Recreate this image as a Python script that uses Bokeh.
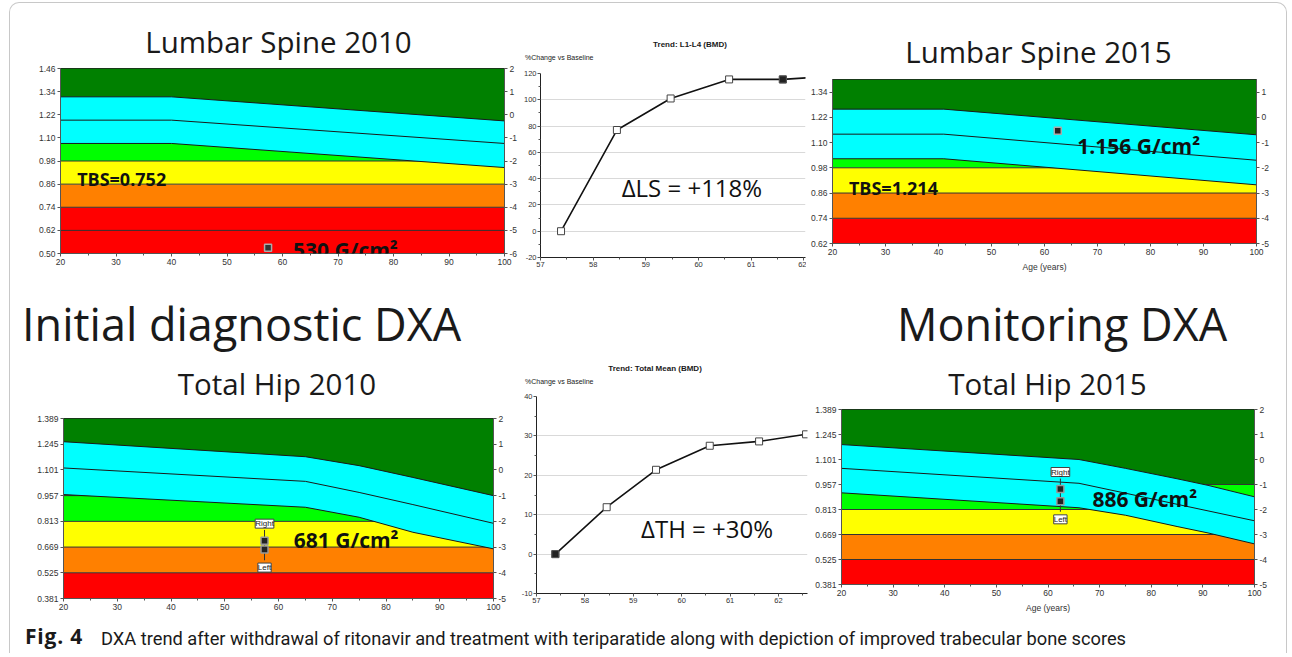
from bokeh.plotting import figure
from bokeh.models import Range1d, LinearAxis, FixedTicker, PrintfTickFormatter, Label, Div
from bokeh.layouts import row, column
from bokeh.embed import file_html
from bokeh.resources import INLINE

# ---------------- data ----------------
age_ticks = [20, 30, 40, 50, 60, 70, 80, 90, 100]
band_t_edges = [-5, -4, -3, -2, -1]          # T-score band limits

# Lumbar spine 2010 reference curves (age, BMD g/cm2)
ls10_age = [20, 40, 100]
ls10_upper = [1.313, 1.313, 1.188]
ls10_mean = [1.192, 1.192, 1.071]
ls10_lower = [1.071, 1.071, 0.946]
ls10_pt_age = [57.4]
ls10_pt_bmd = [0.530]
ls10_bmd_ticks = [0.50, 0.62, 0.74, 0.86, 0.98, 1.10, 1.22, 1.34, 1.46]
ls10_t_ticks = [-6, -5, -4, -3, -2, -1, 0, 1, 2]

# Lumbar spine 2015
ls15_age = [20, 41, 100]
ls15_upper = [1.259, 1.259, 1.137]
ls15_mean = [1.140, 1.140, 1.016]
ls15_lower = [1.023, 1.023, 0.899]
ls15_pt_age = [62.5]
ls15_pt_bmd = [1.156]
ls15_bmd_ticks = [0.62, 0.74, 0.86, 0.98, 1.10, 1.22, 1.34]
ls15_t_ticks = [-5, -4, -3, -2, -1, 0, 1]

# Total hip 2010
th10_age = [20, 65, 75, 85, 100]
th10_upper = [1.259, 1.175, 1.125, 1.059, 0.957]
th10_mean = [1.112, 1.037, 0.975, 0.907, 0.802]
th10_lower = [0.963, 0.892, 0.836, 0.752, 0.659]
th10_pt_age = [57.4, 57.4]
th10_pt_bmd = [0.705, 0.655]
# Total hip 2015
th15_age = [20, 66, 75, 85, 91, 100]
th15_upper = [1.187, 1.101, 1.050, 0.990, 0.952, 0.886]
th15_mean = [1.050, 0.964, 0.907, 0.843, 0.805, 0.748]
th15_lower = [0.909, 0.823, 0.780, 0.715, 0.678, 0.615]
th15_pt_age = [62.4, 62.4]
th15_pt_bmd = [0.931, 0.860]
hip_bmd_ticks = [0.381, 0.525, 0.669, 0.813, 0.957, 1.101, 1.245, 1.389]
hip_t_ticks = [-5, -4, -3, -2, -1, 0, 1, 2]
side_names = ["Right", "Left"]

# Trend charts (% change vs baseline)
trend_age = [57.39, 58.45, 59.47, 60.58, 61.60, 62.57]
ls_trend_pct = [0, 77, 101, 115.5, 115.5, 118]
th_trend_pct = [0, 11.9, 21.4, 27.5, 28.6, 30.4]
trend_year_ticks = [57, 58, 59, 60, 61, 62]
ls_trend_ticks = [-20, 0, 20, 40, 60, 80, 100, 120]
th_trend_ticks = [-10, 0, 10, 20, 30, 40]

BAND_COLORS = ["#FF0000", "#FF8000", "#FFFF00", "#00FF00", "#008000"]
CYAN = "#00FFFF"
OPEN = "Open Sans"
LIB = "Liberation Sans"
ROBOTO = "Roboto"
# baseline position (in em) of a line box whose line-height equals the font size
BASE_K = {OPEN: 0.888, LIB: 0.8465, ROBOTO: 0.842}


def style_axis(ax, size="8.5px", standoff=2):
    ax.major_label_text_font = LIB
    ax.major_label_text_font_size = size
    ax.major_label_text_color = "#333333"
    ax.axis_line_color = "#555555"
    ax.major_tick_line_color = "#555555"
    ax.minor_tick_line_color = "#555555"
    ax.major_tick_out = 3
    ax.major_tick_in = 0
    ax.minor_tick_out = 2
    ax.minor_tick_in = 0
    ax.major_label_standoff = standoff


def data_text(p, x, y, text, size, bold=True, font=OPEN):
    p.add_layout(Label(x=x, y=y, text=text, text_align="left", text_baseline="alphabetic",
                       text_font=font, text_font_size=f"{size}px",
                       text_font_style="bold" if bold else "normal", text_color="#111111"))


def text_div(width, height, items):
    """items: (x, baseline_y, text, size_px, font, bold, align) in px inside the box"""
    parts = []
    for x, base, text, size, font, bold, align, *extra in items:
        top = base - BASE_K[font] * size
        shift = "transform:translateX(-50%);" if align == "center" else ""
        ls = f"letter-spacing:{extra[0]}px;" if extra else ""
        parts.append(
            f'<div style="position:absolute;left:{x}px;top:{top:.1f}px;{shift}{ls}'
            f'font-family:\'{font}\';font-size:{size}px;line-height:{size}px;'
            f'font-weight:{"bold" if bold else "normal"};color:#1a1a1a;white-space:nowrap">{text}</div>')
    html = (f'<div style="position:relative;width:{width}px;height:{height}px">'
            + "".join(parts) + "</div>")
    return Div(text=html, width=width, height=height, margin=0)


def band_chart(width, height, borders, ages, upper, mean, lower, y_lim, bmd_ticks, bmd_fmt,
               t_ref, t_sd, t_ticks, age_label=None):
    l, r, t, b = borders
    p = figure(width=width, height=height, x_range=Range1d(age_ticks[0], age_ticks[-1]),
               y_range=Range1d(*y_lim), output_backend="svg", toolbar_location=None, title=None,
               min_border_left=l, min_border_right=r, min_border_top=t, min_border_bottom=b)
    p.grid.visible = False
    p.outline_line_color = "#222222"
    edges = [t_ref + z * t_sd for z in band_t_edges]
    lo_edges = [y_lim[0]] + edges[1:]
    hi_edges = edges[1:] + [y_lim[1]]
    p.quad(left=age_ticks[0], right=age_ticks[-1], bottom=lo_edges, top=hi_edges,
           fill_color=BAND_COLORS, line_color=None)
    p.segment(x0=age_ticks[0], x1=age_ticks[-1], y0=edges, y1=edges, line_color="#333333", line_width=1)
    p.varea(x=ages, y1=lower, y2=upper, fill_color=CYAN)
    for ys in (upper, mean, lower):
        p.line(ages, ys, line_color="#1a1a1a", line_width=1)
    p.xaxis.ticker = FixedTicker(ticks=age_ticks, minor_ticks=[a + 5 for a in age_ticks[:-1]])
    p.yaxis.ticker = FixedTicker(ticks=bmd_ticks)
    p.yaxis.formatter = PrintfTickFormatter(format=bmd_fmt)
    p.extra_y_ranges = {"t": Range1d((y_lim[0] - t_ref) / t_sd, (y_lim[1] - t_ref) / t_sd)}
    rax = LinearAxis(y_range_name="t", ticker=FixedTicker(ticks=t_ticks),
                     formatter=PrintfTickFormatter(format="%d"))
    p.add_layout(rax, "right")
    for ax in p.xaxis + p.yaxis:
        style_axis(ax)
    if age_label:
        p.xaxis.axis_label = age_label
        p.xaxis.axis_label_text_font = LIB
        p.xaxis.axis_label_text_font_size = "8.5px"
        p.xaxis.axis_label_text_font_style = "normal"
        p.xaxis.axis_label_text_color = "#333333"
        p.xaxis.axis_label_standoff = 4
    return p


def trend_chart(width, height, borders, x_end, pct, y_ticks, filled_idx):
    l, r, t, b = borders
    p = figure(width=width, height=height, x_range=Range1d(trend_year_ticks[0], x_end),
               y_range=Range1d(y_ticks[0], y_ticks[-1]), output_backend="svg",
               toolbar_location=None, title=None,
               min_border_left=l, min_border_right=r, min_border_top=t, min_border_bottom=b)
    p.outline_line_color = None
    p.xgrid.visible = False
    p.ygrid.grid_line_color = "#d9d9d9"
    p.ygrid.ticker = FixedTicker(ticks=y_ticks)
    step = y_ticks[1] - y_ticks[0]
    p.yaxis.ticker = FixedTicker(ticks=y_ticks, minor_ticks=[v + step / 2 for v in y_ticks[:-1]])
    p.yaxis.formatter = PrintfTickFormatter(format="%d")
    p.xaxis.ticker = FixedTicker(ticks=trend_year_ticks,
                                 minor_ticks=[v + 0.5 for v in trend_year_ticks])
    for ax in p.xaxis + p.yaxis:
        style_axis(ax, "7.5px", 1)
        ax.axis_line_color = "#222222"
    p.line(trend_age, pct, line_color="#111111", line_width=1.6)
    p.scatter(trend_age, pct, marker="square", size=7, fill_color="white", line_color="#444444")
    p.scatter([trend_age[filled_idx]], [pct[filled_idx]], marker="square", size=7,
              fill_color="#222222", line_color="#555555")
    return p


def hip_points(p, ages, bmds):
    p.segment(x0=ages[0], x1=ages[1], y0=bmds[0] + 0.06, y1=bmds[1] - 0.06,
              line_color="#333333", line_width=1)
    p.scatter(ages, bmds, marker="square", size=7, fill_color="#222222", line_color="#999999",
              line_width=1.5)
    for a, v, name, off in zip(ages, bmds, side_names, (17, -18)):
        p.add_layout(Label(x=a, y=v, y_offset=off, text=name, text_align="center",
                           text_baseline="middle", text_font=LIB, text_font_size="8px",
                           text_color="#222222", background_fill_color="white",
                           border_line_color="#444444"))


# ---------------- top row ----------------
pA = band_chart(510, 218, (50, 15, 3, 30), ls10_age, ls10_upper, ls10_mean, ls10_lower,
                (0.50, 1.46), ls10_bmd_ticks, "%.2f", 1.22, 0.12, ls10_t_ticks)
pA.scatter(ls10_pt_age, ls10_pt_bmd, marker="square", size=7, fill_color="#333333",
           line_color="#aaaaaa", line_width=1.5)
data_text(pA, 23.0, 0.885, "TBS=0.752", 18)
data_text(pA, 61.9, 0.517, "530 G/cm²", 21)
dA = text_div(510, 62, [(268.5, 50, "Lumbar Spine 2010", 29.5, OPEN, False, "center")])

pB = trend_chart(286, 218, (16, 1, 8, 26), 62.03, ls_trend_pct, ls_trend_ticks, 4)
data_text(pB, 58.54, 33.4, "ΔLS = +118%", 24, bold=False)
dB = text_div(286, 62, [(170, 45, "Trend: L1-L4 (BMD)", 8, LIB, True, "center"),
                        (5, 57, "%Change vs Baseline", 7, LIB, False, "left")])

pC = band_chart(480, 207, (26, 30, 3, 40), ls15_age, ls15_upper, ls15_mean, ls15_lower,
                (0.62, 1.40), ls15_bmd_ticks, "%.2f", 1.22, 0.12, ls15_t_ticks, "Age (years)")
pC.scatter(ls15_pt_age, ls15_pt_bmd, marker="square", size=7, fill_color="#222222",
           line_color="#aaaaaa", line_width=1.5)
data_text(pC, 23.1, 0.882, "TBS=1.214", 18)
data_text(pC, 66.2, 1.082, "1.156 G/cm²", 21)
dC = text_div(480, 73, [(232.5, 60, "Lumbar Spine 2015", 29.5, OPEN, False, "center")])

# ---------------- bottom row ----------------
pD = band_chart(508, 204, (53, 25, 5, 19), th10_age, th10_upper, th10_mean, th10_lower,
                (0.381, 1.389), hip_bmd_ticks, "%.3f", 1.101, 0.144, hip_t_ticks)
hip_points(pD, th10_pt_age, th10_pt_bmd)
data_text(pD, 62.85, 0.709, "681 G/cm²", 21)
dD = text_div(508, 130, [(12, 58, "Initial diagnostic DXA", 45, OPEN, False, "left"),
                         (267, 112, "Total Hip 2010", 29.5, OPEN, False, "center")])

pE = trend_chart(290, 226, (18, 1, 5, 24), 62.6, th_trend_pct, th_trend_ticks, 0)
data_text(pE, 59.16, 6.4, "ΔTH = +30%", 24, bold=False)
dE = text_div(290, 108, [(137, 89, "Trend: Total Mean (BMD)", 8, LIB, True, "center"),
                         (7, 101, "%Change vs Baseline", 7, LIB, False, "left")])

pF = band_chart(478, 212, (33, 32, 4, 33), th15_age, th15_upper, th15_mean, th15_lower,
                (0.381, 1.389), hip_bmd_ticks, "%.3f", 1.101, 0.144, hip_t_ticks, "Age (years)")
hip_points(pF, th15_pt_age, th15_pt_bmd)
data_text(pF, 68.6, 0.875, "886 G/cm²", 21)
dF = text_div(478, 122, [(89, 58, "Monitoring DXA", 45, OPEN, False, "left"),
                         (239.5, 112, "Total Hip 2015", 29.5, OPEN, False, "center")])

caption = text_div(1276, 36, [
    (15, 28, "Fig.&nbsp;4", 21, OPEN, True, "left", 0.8),
    (91, 28, "DXA trend after withdrawal of ritonavir and treatment with teriparatide along with "
             "depiction of improved trabecular bone scores", 18.3, ROBOTO, False, "left")])

top = row(column(dA, pA), column(dB, pB), column(dC, pC))
bottom = row(column(dD, pD), column(dE, pE), column(dF, pF))
layout = column(top, bottom, caption,
                styles={"margin-left": "9px", "margin-top": "2px", "border": "1px solid #c8c8c8",
                        "border-bottom": "none", "border-radius": "10px 10px 0 0"})

open("out.html", "w").write(file_html(layout, INLINE))
